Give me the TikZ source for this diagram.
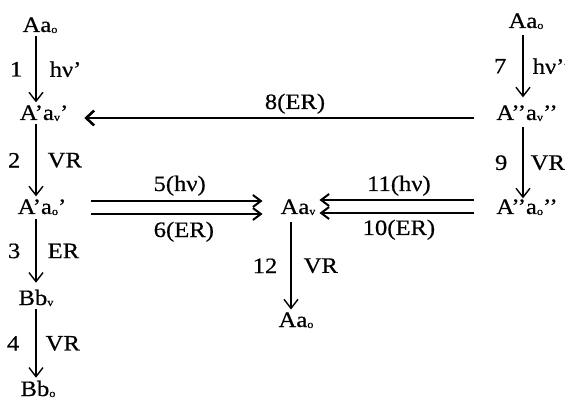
\documentclass[tikz,border=0pt]{standalone}
\usepackage{fontspec}
\setmainfont{Liberation Serif}[FakeStretch=1.12, FakeBold=0.5]
\usetikzlibrary{arrows.meta}
% small, slightly lowered state index (o = ground, v = vibrationally excited)
\newcommand\stidx[1]{\raisebox{-1pt}{\fontsize{11}{11}\selectfont #1}}
\begin{document}
\begin{tikzpicture}[x=1pt,y=-1pt,
  every node/.style={font=\fontsize{22}{25}\selectfont},
  state/.style={anchor=base, inner sep=3pt, outer sep=0pt},
  lbl/.style={inner sep=0pt},
  vstep/.style={line width=1.4pt, -{Straight Barb[length=9pt,width=14pt]}},
  hstep/.style={line width=2.6pt, -{Straight Barb[length=8pt,width=15pt]}},
  pair/.style={line width=2pt, -{Straight Barb[length=8pt,width=12pt]}},
]
\useasboundingbox (0,0) rectangle (565,398);

% column lines for the vertical steps
\coordinate (lx) at (36,0);
\coordinate (cx) at (291,0);
\coordinate (rx) at (523,0);

% left column
\node[state] (L0) at (40,32)  {Aa\stidx{o}};
\node[state] (L1) at (44,120) {A’a\stidx{v}’};
\node[state] (L2) at (42,214) {A’a\stidx{o}’};
\node[state] (L3) at (36,305) {Bb\stidx{v}};
\node[state] (L4) at (38,396) {Bb\stidx{o}};

% centre
\node[state] (C)  at (298,214) {Aa\stidx{v}};
\node[state] (C2) at (296,327) {Aa\stidx{o}};

% right column
\node[state] (R0) at (526,28)  {Aa\stidx{o}};
\node[state] (R1) at (527,120) {A’’a\stidx{v}’’};
\node[state] (R2) at (527,214) {A’’a\stidx{o}’’};

% vertical steps
\draw[vstep] (L0.south -| lx) -- (L1.north -| lx)
  node[lbl, midway, left=13pt] {1} node[lbl, midway, right=13pt] {hν’};
\draw[vstep] (L1.south -| lx) -- (L2.north -| lx)
  node[lbl, midway, left=15pt] {2} node[lbl, midway, right=11pt] {VR};
\draw[vstep] ([yshift=-1pt]L2.south -| lx) -- ([yshift=4pt]L3.north -| lx)
  node[lbl, midway, left=15pt] {3} node[lbl, midway, right=11pt] {ER};
\draw[vstep] (L3.south -| lx) -- (L4.north -| lx)
  node[lbl, midway, left=16pt] {4} node[lbl, midway, right=9pt] {VR};

\draw[vstep] ([yshift=-4pt]C.south -| cx) -- (C2.north -| cx)
  node[lbl, midway, right=12pt] {VR} node[lbl, midway, left=13pt] {12};

\draw[vstep] ([yshift=-3pt]R0.south -| rx) -- ([yshift=5pt]R1.north -| rx)
  node[lbl, midway, left=16pt] {7} node[lbl, midway, right=9pt] {hν’’};
\draw[vstep] ([yshift=-3pt]R1.south -| rx) -- ([yshift=-2pt]R2.north -| rx)
  node[lbl, midway, left=15pt] {9} node[lbl, midway, right=7pt] {VR};

% horizontal steps
\draw[hstep, shorten <=19pt, shorten >=13pt]
  ([yshift=2pt]R1.base west) -- ([yshift=2pt]L1.base east)
  node[lbl, pos=0.47, anchor=base, yshift=9pt] {8(ER)};

\draw[pair, shorten <=22pt, shorten >=15pt]
  ([yshift=13pt]L2.base east) -- ([yshift=13pt]C.base west)
  node[lbl, pos=0.53, anchor=base, yshift=10pt] {5(hν)};
\draw[pair, shorten <=22pt, shorten >=15pt]
  ([yshift=0pt]L2.base east) -- ([yshift=0pt]C.base west)
  node[lbl, pos=0.55, anchor=base, yshift=-23pt] {6(ER)};

\draw[pair, shorten <=19pt, shorten >=1pt]
  ([yshift=14pt]R2.base west) -- ([yshift=14pt]C.base east)
  node[lbl, pos=0.54, anchor=base, yshift=9pt] {11(hν)};
\draw[pair, shorten <=19pt, shorten >=1pt]
  ([yshift=1pt]R2.base west) -- ([yshift=1pt]C.base east)
  node[lbl, pos=0.54, anchor=base, yshift=-22pt] {10(ER)};
\end{tikzpicture}
\end{document}
